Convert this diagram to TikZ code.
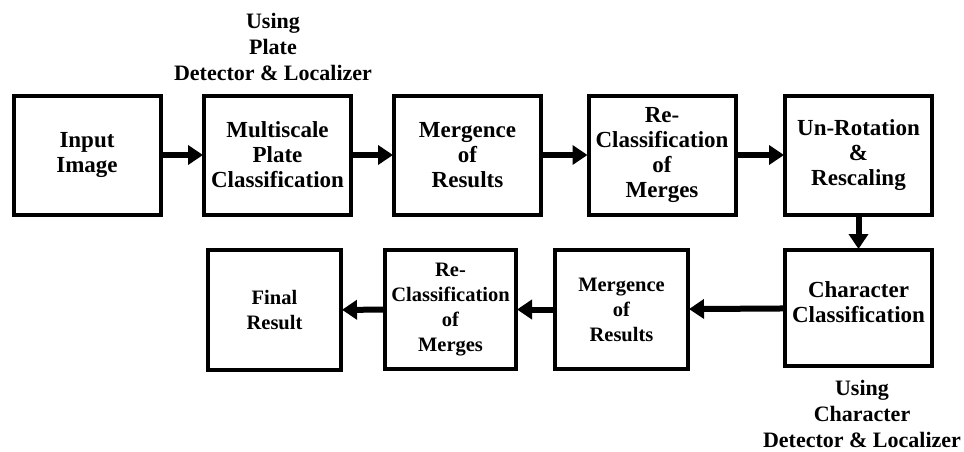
\documentclass[tikz,border=0pt]{standalone}
\usepackage{fontspec}
\setmainfont{Liberation Serif}
\usetikzlibrary{arrows.meta}
\begin{document}
\begin{tikzpicture}[x=1pt,y=-1pt,
  box/.style={draw,line width=4pt,minimum width=147pt,minimum height=119pt,inner sep=0pt,align=center,font=\bfseries\fontsize{23}{25}\selectfont},
  smallbox/.style={box,font=\bfseries\fontsize{20.5}{25}\selectfont},
  txt/.style={align=center,inner sep=0pt,font=\bfseries\fontsize{23}{25}\selectfont},
  lbl/.style={align=center,inner sep=0pt,font=\bfseries\fontsize{22}{26}\selectfont},
  flow/.style={line width=6pt,-{Triangle[length=15pt,width=19pt]},shorten >=-1pt}]
\useasboundingbox (0,0) rectangle (964,452);
\node[box] (b1) at (87,155) {Input\\Image};
\node[box] (b2) at (277.5,155) {Multiscale\\Plate\\Classification};
\node[box] (b3) at (467.5,155) {Mergence\\of\\Results};
\node[box] (b4) at (662,155) {Re-\\Classification\\of\\Merges};
\node[box] (b5) at (858.5,155) {Un-Rotation\\\&\\Rescaling};
\node[box,minimum height=116pt] (b6) at (858.5,308) {};
\node[txt] (b6t) at ([yshift=6pt]b6.center) {Character\\Classification};
\node[smallbox,minimum width=133pt] (b7) at (621.5,309.5) {Mergence\\of\\Results};
\node[smallbox,minimum width=131pt] (b8) at (450.5,309.5) {Re-\\Classification\\of\\Merges};
\node[smallbox,minimum width=133pt,minimum height=120pt] (b9) at (274.5,310) {Final\\Result};
\node[lbl] (t1) at (273,47) {Using\\Plate\\Detector \& Localizer};
\node[lbl] (t2) at (862,414) {Using\\Character\\Detector \& Localizer};
\draw[flow] (b1) -- (b2);
\draw[flow] (b2) -- (b3);
\draw[flow] (b3) -- (b4);
\draw[flow] (b4) -- (b5);
\draw[flow] (b5) -- (b6);
\draw[flow] (b6) -- (b7);
\draw[flow] (b7) -- (b8);
\draw[flow] (b8) -- (b9);
\end{tikzpicture}
\end{document}
